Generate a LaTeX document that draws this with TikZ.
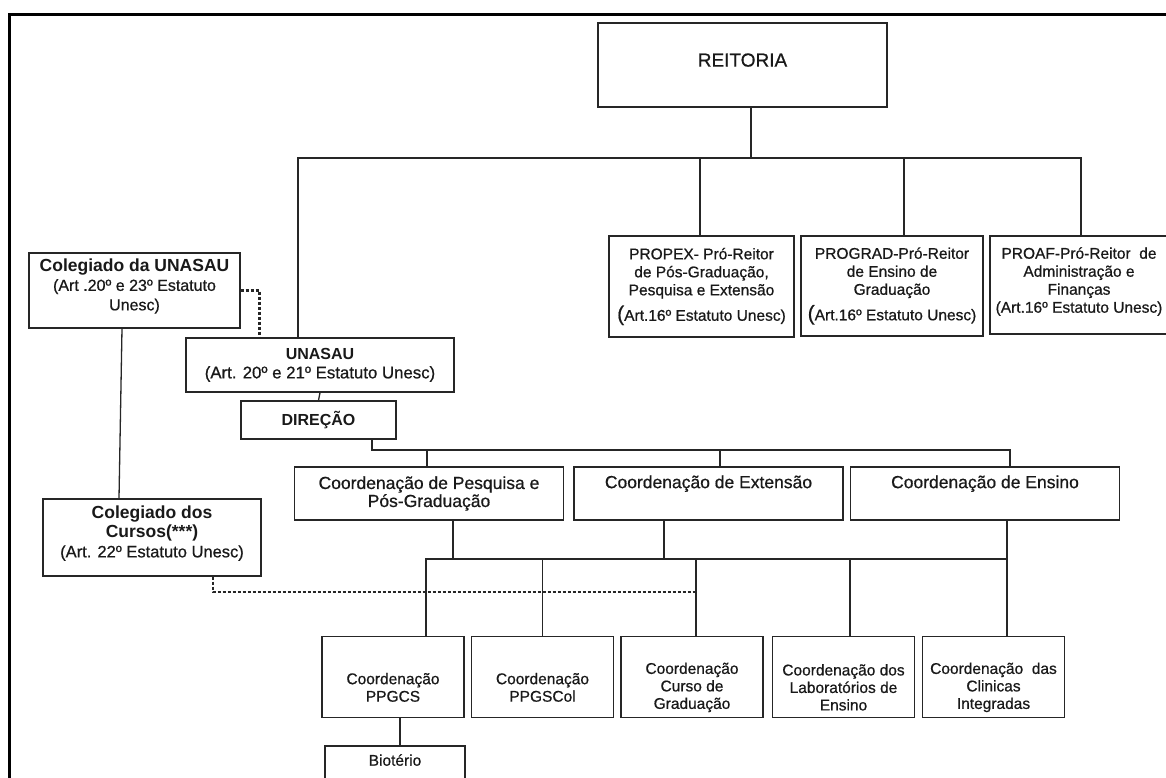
\documentclass[tikz,border=0pt]{standalone}
\usepackage{fontspec}
\setmainfont{Liberation Sans}[UprightFeatures={FakeBold=0.7}]
\tikzset{
  caixa/.style={draw=black!85, line width=1.3pt, align=center, inner sep=0pt, text=black!90},
  liga/.style={draw=black!85, line width=1.3pt},
  tracejada/.style={liga, line width=1.5pt, densely dashed},
}
\newcommand{\topo}{\rule{0pt}{32pt}}
\newcommand{\fundo}[1]{\rule[-#1]{0pt}{0pt}}
\newcommand{\titulo}[1]{{\bfseries\fontsize{17.5}{21}\selectfont #1}}

\begin{document}
\begin{tikzpicture}[x=1pt,y=-1pt]
    \useasboundingbox (0,0) rectangle (1166,778);
    \clip (0,0) rectangle (1166,778);
    % moldura
    \draw[line width=3pt] (9,800) -- (9,15) -- (1190,15);

    % reitoria
    \node[caixa, minimum width=289, minimum height=84, text depth=10pt,
          font=\fontsize{19}{22}\selectfont] (reit) at (742.5,65) {REITORIA};

    % pró-reitorias
    \node[caixa, minimum width=185, minimum height=101, font=\fontsize{15.5}{18}\selectfont] (propex) at (701.5,286.5)
        {PROPEX- Pró-Reitor\\de Pós-Graduação,\\Pesquisa e Extensão\\[6pt]{\fontsize{21}{21}\selectfont(}Art.16º Estatuto Unesc)\fundo{4pt}};
    \node[caixa, minimum width=182, minimum height=100, font=\fontsize{15.5}{18}\selectfont] (prograd) at (892,286)
        {PROGRAD-Pró-Reitor\\de Ensino de\\Graduação\\[6pt]{\fontsize{21}{21}\selectfont(}Art.16º Estatuto Unesc)\fundo{4pt}};
    \node[caixa, minimum width=178, minimum height=98, font=\fontsize{15.5}{18}\selectfont] (proaf) at (1079,285)
        {PROAF-Pró-Reitor\ \ de\\Administração e\\Finanças\\(Art.16º Estatuto Unesc)\fundo{10pt}};

    % unidade
    \node[caixa, minimum width=211, minimum height=75, font=\fontsize{16}{19.5}\selectfont] (colun) at (134.5,290.5)
        {\titulo{Colegiado da UNASAU}\\(Art .20º e 23º Estatuto\\Unesc)\fundo{12pt}};
    \node[caixa, minimum width=268, minimum height=54, font=\fontsize{16.8}{19}\selectfont] (unasau) at (320,365)
        {{\bfseries\fontsize{16}{19}\selectfont UNASAU}\\(Art. 20º e 21º Estatuto Unesc)};
    \node[caixa, minimum width=155, minimum height=38, font=\bfseries\fontsize{16}{19}\selectfont] (direcao) at (318.5,420) {DIREÇÃO};
    \node[caixa, minimum width=218, minimum height=77, font=\fontsize{16.5}{19.5}\selectfont] (colcur) at (152,537.5)
        {\titulo{Colegiado dos}\\\titulo{Cursos(***)}\\(Art. 22º Estatuto Unesc)\fundo{12pt}};

    % coordenações
    \foreach \nome/\x/\txt in {cppg/429/{Coordenação de Pesquisa e\\Pós-Graduação},
                               ext/708.5/{Coordenação de Extensão\\\strut},
                               ens/985/{Coordenação de Ensino\\\strut}}{
        \node[caixa, minimum width=269, minimum height=53, font=\fontsize{17.5}{18}\selectfont] (\nome) at (\x,493.5) {\txt};
    }

    \foreach \nome/\x/\txt in {ppgcs/393/{\topo Coordenação\\PPGCS},
                               ppgscol/542.5/{\topo Coordenação\\PPGSCol},
                               curso/692/{\topo Coordenação\\Curso de\\Graduação},
                               lab/843.5/{\topo Coordenação dos\\Laboratórios de\\Ensino},
                               clin/993.5/{\topo Coordenação\ \ das\\Clinicas\\Integradas}}{
        \node[caixa, minimum width=142, minimum height=81, font=\fontsize{15.5}{17.5}\selectfont] (\nome) at (\x,677) {\txt};
    }
    \node[caixa, minimum width=140, minimum height=40, text depth=12pt,
          font=\fontsize{15.5}{17.5}\selectfont] (biot) at (395,766) {Biotério};

    % ligações superiores
    \coordinate (barra1) at (0,158);
    \draw[liga] ([xshift=8.5pt]reit.south) -- ([xshift=8.5pt]reit.south |- barra1);
    \draw[liga] ([xshift=-22pt]unasau.north) |- ([xshift=2pt]proaf.north |- barra1) -- ([xshift=2pt]proaf.north);
    \draw[liga] ([xshift=-1.5pt]propex.north) -- ([xshift=-1.5pt]propex.north |- barra1);
    \draw[liga] ([xshift=12pt]prograd.north) -- ([xshift=12pt]prograd.north |- barra1);
    \draw[tracejada, line width=2.2pt] (colun.east) -| ([xshift=-60.5pt]unasau.north);
    \draw[liga] ([xshift=-12.5pt]colun.south) -- ([xshift=-33pt]colcur.north);
    \draw[liga] (unasau.south) -- (direcao.north);

    % ligações da direção
    \coordinate (barra2) at (0,450);
    \draw[liga] ([xshift=53.5pt]direcao.south) |- ([xshift=25pt]ens.north |- barra2) -- ([xshift=25pt]ens.north);
    \draw[liga] ([xshift=-2pt]cppg.north) -- ([xshift=-2pt]cppg.north |- barra2);
    \draw[liga] ([xshift=11.5pt]ext.north) -- ([xshift=11.5pt]ext.north |- barra2);

    % ligações inferiores
    \coordinate (barra3) at (0,559);
    \draw[liga] ([xshift=24pt]cppg.south) -- ([xshift=24pt]cppg.south |- barra3);
    \draw[liga] ([xshift=-44.5pt]ext.south) -- ([xshift=-44.5pt]ext.south |- barra3);
    \draw[liga] ([xshift=22pt]ens.south) -- ([xshift=13.5pt]clin.north);
    \draw[liga] ([xshift=33pt]ppgcs.north) |- ([xshift=13.5pt]clin.north |- barra3);
    \foreach \nome/\dx in {ppgscol/0, curso/4, lab/6.5}
        \draw[liga] ([xshift=\dx pt]\nome.north) -- ([xshift=\dx pt]\nome.north |- barra3);
    \coordinate (barra4) at (0,592);
    \draw[tracejada] ([xshift=61pt]colcur.south) |- ([xshift=4pt]curso.north |- barra4);
    \draw[liga] ([xshift=7pt]ppgcs.south) -- ([xshift=5pt]biot.north);
\end{tikzpicture}
\end{document}
